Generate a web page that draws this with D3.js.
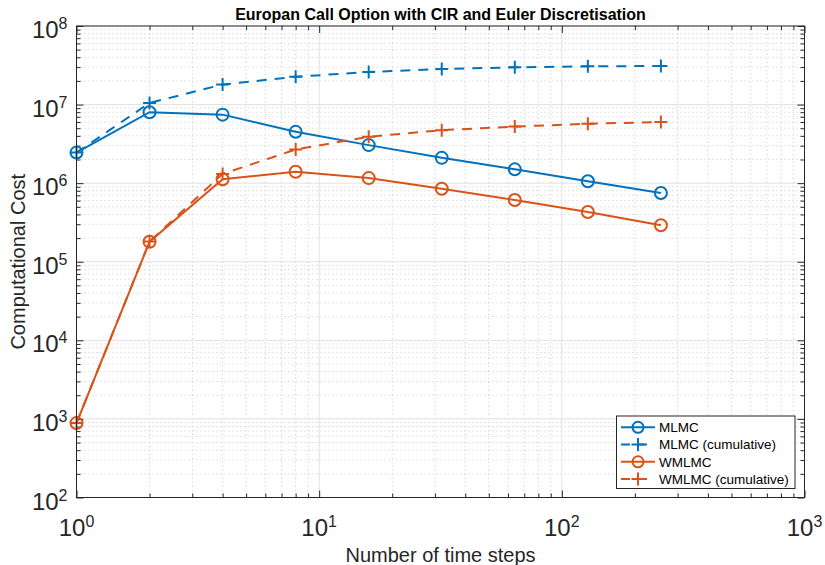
<!DOCTYPE html>
<html>
<head>
<meta charset="utf-8">
<script src="https://cdn.jsdelivr.net/npm/d3@7"></script>
<style>
  body { margin: 0; background: #fff; }
  svg { display: block; font-family: "Liberation Sans", Arial, Helvetica, sans-serif; }
</style>
</head>
<body>
<div id="chart"></div>
<script>
// time steps per level
const steps = [1, 2, 4, 8, 16, 32, 64, 128, 256];
const mlmc = [2.45e6, 8.0e6, 7.45e6, 4.5e6, 3.05e6, 2.1e6, 1.5e6, 1.06e6, 7.5e5];
const mlmcCum = [2.45e6, 1.05e7, 1.8e7, 2.26e7, 2.6e7, 2.83e7, 2.98e7, 3.07e7, 3.1e7];
const wmlmc = [885, 1.8e5, 1.12e6, 1.4e6, 1.16e6, 8.5e5, 6.1e5, 4.3e5, 2.92e5];
const wmlmcCum = [885, 1.81e5, 1.31e6, 2.68e6, 3.9e6, 4.73e6, 5.25e6, 5.7e6, 6.0e6];

const xTicks = [1, 10, 100, 1000];
const xTickExp = ["0", "1", "2", "3"];
const yTicks = [1e2, 1e3, 1e4, 1e5, 1e6, 1e7, 1e8];
const yTickExp = ["2", "3", "4", "5", "6", "7", "8"];

const seriesNames = ["MLMC", "MLMC (cumulative)", "WMLMC", "WMLMC (cumulative)"];

const width = 825, height = 565;
const box = { left: 76.5, right: 804.5, top: 26, bottom: 497.5 };
const blue = "#0072BD", orange = "#D95319", axisColor = "#262626";
const dash = "10,8";

const svg = d3.select("#chart").append("svg")
    .attr("width", width)
    .attr("height", height);

const x = d3.scaleLog().domain([1, 1000]).range([box.left, box.right]);
const y = d3.scaleLog().domain([1e2, 1e8]).range([box.bottom, box.top]);

// minor tick values, 2..9 in each decade
function minors(lo, hi) {
    const out = [];
    for (let e = lo; e < hi; e++) {
        for (let m = 2; m <= 9; m++) out.push(m * Math.pow(10, e));
    }
    return out;
}
const xMinor = minors(0, 3);
const yMinor = minors(2, 8);

// grid
const grid = svg.append("g").attr("class", "grid");
grid.selectAll(".xminor").data(xMinor).enter().append("line")
    .attr("x1", d => x(d)).attr("x2", d => x(d))
    .attr("y1", box.top).attr("y2", box.bottom)
    .attr("stroke", "#c8c8c8").attr("stroke-dasharray", "1,3");
grid.selectAll(".yminor").data(yMinor).enter().append("line")
    .attr("y1", d => y(d)).attr("y2", d => y(d))
    .attr("x1", box.left).attr("x2", box.right)
    .attr("stroke", "#c8c8c8").attr("stroke-dasharray", "1,3");
grid.selectAll(".xmajor").data(xTicks).enter().append("line")
    .attr("x1", d => x(d)).attr("x2", d => x(d))
    .attr("y1", box.top).attr("y2", box.bottom)
    .attr("stroke", "#e1e1e1");
grid.selectAll(".ymajor").data(yTicks).enter().append("line")
    .attr("y1", d => y(d)).attr("y2", d => y(d))
    .attr("x1", box.left).attr("x2", box.right)
    .attr("stroke", "#e1e1e1");

// ticks on all four sides, pointing inwards
function tickAxis(gen, values, size, transform) {
    svg.append("g")
        .attr("transform", transform)
        .call(gen.tickValues(values).tickSize(-size).tickFormat(""))
        .call(g => g.select(".domain").remove())
        .call(g => g.selectAll("line").attr("stroke", axisColor));
}
tickAxis(d3.axisBottom(x), xTicks, 7, `translate(0,${box.bottom})`);
tickAxis(d3.axisBottom(x), xMinor, 4, `translate(0,${box.bottom})`);
tickAxis(d3.axisTop(x), xTicks, 7, `translate(0,${box.top})`);
tickAxis(d3.axisTop(x), xMinor, 4, `translate(0,${box.top})`);
tickAxis(d3.axisLeft(y), yTicks, 7, `translate(${box.left},0)`);
tickAxis(d3.axisLeft(y), yMinor, 4, `translate(${box.left},0)`);
tickAxis(d3.axisRight(y), yTicks, 7, `translate(${box.right},0)`);
tickAxis(d3.axisRight(y), yMinor, 4, `translate(${box.right},0)`);

// tick labels as 10^n
const xl = svg.selectAll(".xlabel").data(xTicks).enter().append("text")
    .attr("class", "xlabel")
    .attr("x", d => x(d)).attr("y", 536)
    .attr("text-anchor", "middle")
    .attr("fill", axisColor);
xl.append("tspan").attr("font-size", 24).text("10");
xl.append("tspan").attr("font-size", 16).attr("dy", -9).text((d, i) => xTickExp[i]);

const yl = svg.selectAll(".ylabel").data(yTicks).enter().append("text")
    .attr("class", "ylabel")
    .attr("x", 67.5).attr("y", d => y(d) + 12)
    .attr("text-anchor", "end")
    .attr("fill", axisColor);
yl.append("tspan").attr("font-size", 24).text("10");
yl.append("tspan").attr("font-size", 16).attr("dy", -9).text((d, i) => yTickExp[i]);

// lines + markers
const line = d3.line().x(d => x(d[0])).y(d => y(d[1]));

function plusPath(cx, cy, r) {
    return `M${cx - r},${cy}H${cx + r}M${cx},${cy - r}V${cy + r}`;
}

function drawSeries(values, color, dashed, marker) {
    const pts = steps.map((s, i) => [s, values[i]]);
    const g = svg.append("g");
    g.append("path")
        .datum(pts)
        .attr("d", line)
        .attr("fill", "none")
        .attr("stroke", color)
        .attr("stroke-width", 2)
        .attr("stroke-dasharray", dashed ? dash : null);
    if (marker === "o") {
        g.selectAll("circle").data(pts).enter().append("circle")
            .attr("cx", d => x(d[0])).attr("cy", d => y(d[1]))
            .attr("r", 6)
            .attr("fill", "none")
            .attr("stroke", color)
            .attr("stroke-width", 2);
    } else {
        g.selectAll("path.plus").data(pts).enter().append("path")
            .attr("class", "plus")
            .attr("d", d => plusPath(x(d[0]), y(d[1]), 6.5))
            .attr("stroke", color)
            .attr("stroke-width", 2);
    }
}

drawSeries(mlmc, blue, false, "o");
drawSeries(mlmcCum, blue, true, "+");
drawSeries(wmlmc, orange, false, "o");
drawSeries(wmlmcCum, orange, true, "+");

// axes box
svg.append("rect")
    .attr("x", box.left).attr("y", box.top)
    .attr("width", box.right - box.left).attr("height", box.bottom - box.top)
    .attr("fill", "none").attr("stroke", axisColor).attr("stroke-width", 1);

// title and axis labels
svg.append("text")
    .attr("x", (box.left + box.right) / 2).attr("y", 20)
    .attr("text-anchor", "middle")
    .attr("font-size", 16).attr("font-weight", "bold")
    .attr("fill", "#000")
    .text("Europan Call Option with CIR and Euler Discretisation");

svg.append("text")
    .attr("x", (box.left + box.right) / 2).attr("y", 561.5)
    .attr("text-anchor", "middle")
    .attr("font-size", 20)
    .attr("fill", axisColor)
    .text("Number of time steps");

svg.append("text")
    .attr("transform", `translate(25,${(box.top + box.bottom) / 2}) rotate(-90)`)
    .attr("text-anchor", "middle")
    .attr("font-size", 20)
    .attr("fill", axisColor)
    .text("Computational Cost");

// legend
const legend = { x: 616.5, y: 416, w: 178.5, h: 72.5 };
const lg = svg.append("g");
lg.append("rect")
    .attr("x", legend.x).attr("y", legend.y)
    .attr("width", legend.w).attr("height", legend.h)
    .attr("fill", "#fff").attr("stroke", axisColor).attr("stroke-width", 1);

const legendColors = [blue, blue, orange, orange];
const legendDash = [false, true, false, true];
const legendMarker = ["o", "+", "o", "+"];
seriesNames.forEach((name, i) => {
    const cy = 427.3 + i * 17.25;
    const item = lg.append("g");
    item.append("line")
        .attr("x1", 621).attr("x2", 655)
        .attr("y1", cy).attr("y2", cy)
        .attr("stroke", legendColors[i])
        .attr("stroke-width", 2)
        .attr("stroke-dasharray", legendDash[i] ? "9,8" : null);
    const mx = 638;
    if (legendMarker[i] === "o") {
        item.append("circle").attr("cx", mx).attr("cy", cy).attr("r", 5.5)
            .attr("fill", "none").attr("stroke", legendColors[i]).attr("stroke-width", 2);
    } else {
        item.append("path")
            .attr("d", plusPath(mx, cy, 6.5))
            .attr("stroke", legendColors[i]).attr("stroke-width", 2);
    }
    item.append("text")
        .attr("x", 659).attr("y", cy + 4.8)
        .attr("font-size", 13.5)
        .attr("fill", "#000")
        .text(name);
});
</script>
</body>
</html>
